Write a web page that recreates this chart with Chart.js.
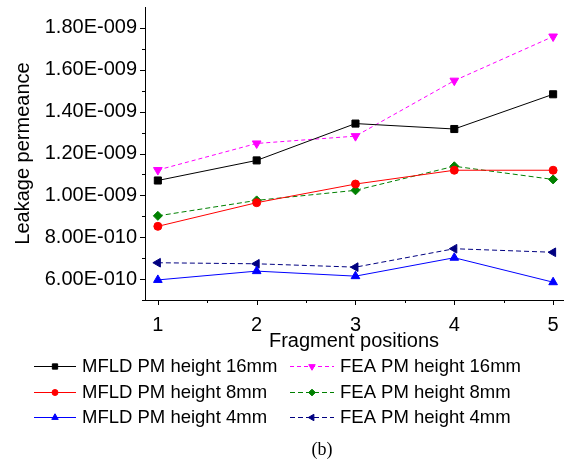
<!DOCTYPE html>
<html>
<head>
<meta charset="utf-8">
<script src="https://cdn.jsdelivr.net/npm/chart.js@4/dist/chart.umd.min.js"></script>
<style>
  html, body { margin: 0; padding: 0; background: #fff; }
  #wrap { width: 570px; height: 460px; }
</style>
</head>
<body>
<div id="wrap"><canvas id="leakChart" width="570" height="460"></canvas></div>
<script>
// --- data ---
const positions = [1, 2, 3, 4, 5];
const xTickLabels = ['1', '2', '3', '4', '5'];
const yTickValues = [6e-10, 8e-10, 1.0e-9, 1.2e-9, 1.4e-9, 1.6e-9, 1.8e-9];
const yTickLabels = ['6.00E-010', '8.00E-010', '1.00E-009', '1.20E-009', '1.40E-009', '1.60E-009', '1.80E-009'];

const mfld16 = [1.071e-9, 1.167e-9, 1.343e-9, 1.317e-9, 1.483e-9];
const fea16  = [1.121e-9, 1.248e-9, 1.283e-9, 1.548e-9, 1.759e-9];
const mfld8  = [0.852e-9, 0.965e-9, 1.054e-9, 1.120e-9, 1.120e-9];
const fea8   = [0.902e-9, 0.976e-9, 1.024e-9, 1.139e-9, 1.076e-9];
const mfld4  = [0.596e-9, 0.638e-9, 0.614e-9, 0.702e-9, 0.585e-9];
const fea4   = [0.678e-9, 0.673e-9, 0.657e-9, 0.745e-9, 0.728e-9];

const seriesNames = [
    'MFLD PM height 16mm', 'FEA PM height 16mm',
    'MFLD PM height 8mm', 'FEA PM height 8mm',
    'MFLD PM height 4mm', 'FEA PM height 4mm'
];

Chart.defaults.font.family = '"Liberation Sans", Arial, sans-serif';
Chart.defaults.color = '#000';

const toXY = (vals) => positions.map((p, i) => ({ x: p, y: vals[i] }));

function makeSet(name, vals, color, style, radius, rotation, dash) {
    return {
        label: name,
        data: toXY(vals),
        borderColor: color,
        backgroundColor: color,
        borderWidth: 1,
        borderDash: dash,
        pointStyle: style,
        pointRotation: rotation,
        pointRadius: radius,
        pointBorderWidth: 1,
        pointBackgroundColor: color,
        pointBorderColor: color,
        tension: 0
    };
}

const datasets = [
    makeSet(seriesNames[0], mfld16, '#000000', 'rect', 5, 0, []),
    makeSet(seriesNames[1], fea16, '#ff00ff', 'triangle', 5, 180, [4, 3]),
    makeSet(seriesNames[2], mfld8, '#ff0000', 'circle', 4, 0, []),
    makeSet(seriesNames[3], fea8, '#008000', 'rectRot', 4.5, 0, [5, 3]),
    makeSet(seriesNames[4], mfld4, '#0000ff', 'triangle', 5, 0, []),
    makeSet(seriesNames[5], fea4, '#000080', 'triangle', 5, -90, [5, 3])
];

// minor + major tick marks drawn outward
const tickMarks = {
    id: 'tickMarks',
    afterDraw(chart) {
        const ctx = chart.ctx;
        const xs = chart.scales.x, ys = chart.scales.y;
        const area = chart.chartArea;
        ctx.save();
        ctx.strokeStyle = '#000';
        ctx.lineWidth = 1;
        ctx.beginPath();
        for (let k = 5; k <= 18; k++) {
            const py = Math.round(ys.getPixelForValue(k * 1e-10)) + 0.5;
            const len = (k % 2 === 0) ? 5 : 3;
            ctx.moveTo(area.left, py);
            ctx.lineTo(area.left - len, py);
        }
        for (let k = 2; k <= 10; k++) {
            const px = Math.round(xs.getPixelForValue(k / 2)) + 0.5;
            const len = (k % 2 === 0) ? 5 : 3;
            ctx.moveTo(px, area.bottom);
            ctx.lineTo(px, area.bottom + len);
        }
        ctx.stroke();
        ctx.restore();
    }
};

// two-column legend under the axis, plus the "(b)" caption
const legendBlock = {
    id: 'legendBlock',
    afterDraw(chart) {
        const ctx = chart.ctx;
        const cols = [{ x1: 34, x2: 76, text: 82 }, { x1: 290, x2: 334, text: 340 }];
        const rows = [366, 392, 417];
        ctx.save();
        chart.data.datasets.forEach((ds, i) => {
            const c = cols[i % 2];
            const y = rows[Math.floor(i / 2)];
            ctx.strokeStyle = ds.borderColor;
            ctx.fillStyle = ds.backgroundColor;
            ctx.lineWidth = 1;
            ctx.setLineDash(ds.borderDash);
            ctx.beginPath();
            ctx.moveTo(c.x1, y + 0.5);
            ctx.lineTo(c.x2, y + 0.5);
            ctx.stroke();
            ctx.setLineDash([]);
            Chart.helpers.drawPoint(ctx, {
                pointStyle: ds.pointStyle,
                rotation: ds.pointRotation,
                radius: ds.pointRadius * 0.75,
                borderWidth: 1
            }, (c.x1 + c.x2) / 2, y + 0.5);
            ctx.fillStyle = '#000';
            ctx.font = '18.5px "Liberation Sans", Arial, sans-serif';
            ctx.textBaseline = 'middle';
            ctx.textAlign = 'left';
            ctx.fillText(ds.label, c.text, y + 1);
        });
        ctx.font = '18px "Liberation Serif", "Times New Roman", serif';
        ctx.textAlign = 'center';
        ctx.fillText('(b)', 322, 450);
        ctx.restore();
    }
};

new Chart(document.getElementById('leakChart'), {
    type: 'line',
    data: { datasets: datasets },
    options: {
        responsive: false,
        animation: false,
        layout: { padding: { top: 7, right: 7, left: 0, bottom: 105 } },
        plugins: { legend: { display: false }, tooltip: { enabled: false } },
        scales: {
            x: {
                type: 'linear',
                min: 0.87,
                max: 5.1,
                afterBuildTicks: (scale) => { scale.ticks = positions.map(v => ({ value: v })); },
                afterFit: (scale) => {
                    scale.height = 55;
                    scale.paddingLeft = 0;
                    scale.paddingRight = 0;
                },
                ticks: {
                    callback: (v, i) => xTickLabels[i],
                    font: { size: 20 },
                    padding: 13,
                    maxRotation: 0
                },
                grid: { display: false, drawTicks: false },
                border: { display: true, color: '#000', width: 1 },
                title: {
                    display: true,
                    text: 'Fragment positions',
                    font: { size: 20 },
                    padding: { top: 0, bottom: 2 }
                }
            },
            y: {
                min: 5e-10,
                max: 1.9e-9,
                afterBuildTicks: (scale) => { scale.ticks = yTickValues.map(v => ({ value: v })); },
                afterFit: (scale) => {
                    scale.width = 145;
                    scale.paddingTop = 0;
                    scale.paddingBottom = 0;
                },
                ticks: {
                    callback: (v, i) => yTickLabels[i],
                    font: { size: 20 },
                    padding: 8
                },
                grid: { display: false, drawTicks: false },
                border: { display: true, color: '#000', width: 1 },
                title: {
                    display: true,
                    text: 'Leakage permeance',
                    font: { size: 20 },
                    padding: { top: 11, bottom: 0 }
                }
            }
        }
    },
    plugins: [tickMarks, legendBlock]
});
</script>
</body>
</html>
